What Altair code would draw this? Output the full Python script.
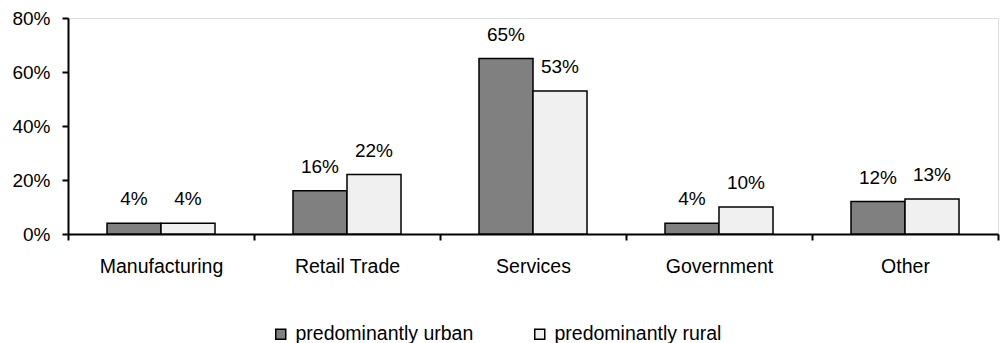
import altair as alt
import pandas as pd

# Employment share by industry for predominantly urban vs rural areas
sectors = ["Manufacturing", "Retail Trade", "Services", "Government", "Other"]
urban = [4, 16, 65, 4, 12]
rural = [4, 22, 53, 10, 13]
groups = ["predominantly urban", "predominantly rural"]
y_ticks = [0, 20, 40, 60, 80]

rows = []
for s, u, r in zip(sectors, urban, rural):
    rows.append({"sector": s, "group": groups[0], "share": u})
    rows.append({"sector": s, "group": groups[1], "share": r})
df = pd.DataFrame(rows)

FONT = "Liberation Sans"
FS = 19
FS_CAT = 19.5

x_enc = alt.X(
    "sector:N",
    sort=sectors,
    title=None,
    scale=alt.Scale(paddingInner=0, paddingOuter=0),
    axis=alt.Axis(
        labelAngle=0,
        tickBand="extent",
        tickSize=6,
        tickWidth=2,
        tickColor="black",
        domainColor="black",
        domainWidth=2,
        labelPadding=17,
        labelFontSize=FS_CAT,
        labelFont=FONT,
        labelColor="black",
        labelLimit=300,
    ),
)
xoff_enc = alt.XOffset(
    "group:N",
    sort=groups,
    scale=alt.Scale(paddingInner=0, paddingOuter=0.7222),
)
y_enc = alt.Y(
    "share:Q",
    title=None,
    scale=alt.Scale(domain=[0, 80], nice=False),
    axis=alt.Axis(
        values=y_ticks,
        labelExpr="datum.value + '%'",
        grid=False,
        tickSize=6,
        tickWidth=2,
        tickColor="black",
        domainColor="black",
        domainWidth=2,
        labelPadding=12,
        labelFontSize=FS,
        labelFont=FONT,
        labelColor="black",
    ),
)

bars = alt.Chart(df).mark_bar(stroke="black", strokeWidth=1.5).encode(
    x=x_enc,
    xOffset=xoff_enc,
    y=y_enc,
    color=alt.Color(
        "group:N",
        sort=groups,
        scale=alt.Scale(domain=groups, range=["#808080", "#f0f0f0"]),
        legend=alt.Legend(
            title=None,
            orient="none",
            direction="horizontal",
            legendX=203,
            legendY=306,
            symbolType="square",
            symbolSize=100,
            symbolStrokeColor="black",
            symbolStrokeWidth=1.5,
            labelFontSize=FS_CAT,
            labelFont=FONT,
            labelColor="black",
            labelOffset=5,
            labelLimit=400,
            columnPadding=56,
        ),
    ),
)

labels = (
    alt.Chart(df)
    .transform_calculate(lbl="datum.share + '%'")
    .mark_text(dy=-18, baseline="alphabetic", align="center", fontSize=FS, font=FONT, color="black")
    .encode(
        x=alt.X("sector:N", sort=sectors),
        xOffset=alt.XOffset("group:N", sort=groups),
        y="share:Q",
        text="lbl:N",
    )
)

chart = (
    alt.layer(bars, labels)
    .properties(
        width=930,
        height=216,
        autosize=alt.AutoSizeParams(type="none"),
        padding={"left": 68, "top": 18, "right": 4, "bottom": 109},
    )
    .configure_view(stroke="#808080", strokeWidth=1.5)
    .configure(background="white")
)

chart.save("out.html", embed_options={"renderer": "svg", "actions": False})
